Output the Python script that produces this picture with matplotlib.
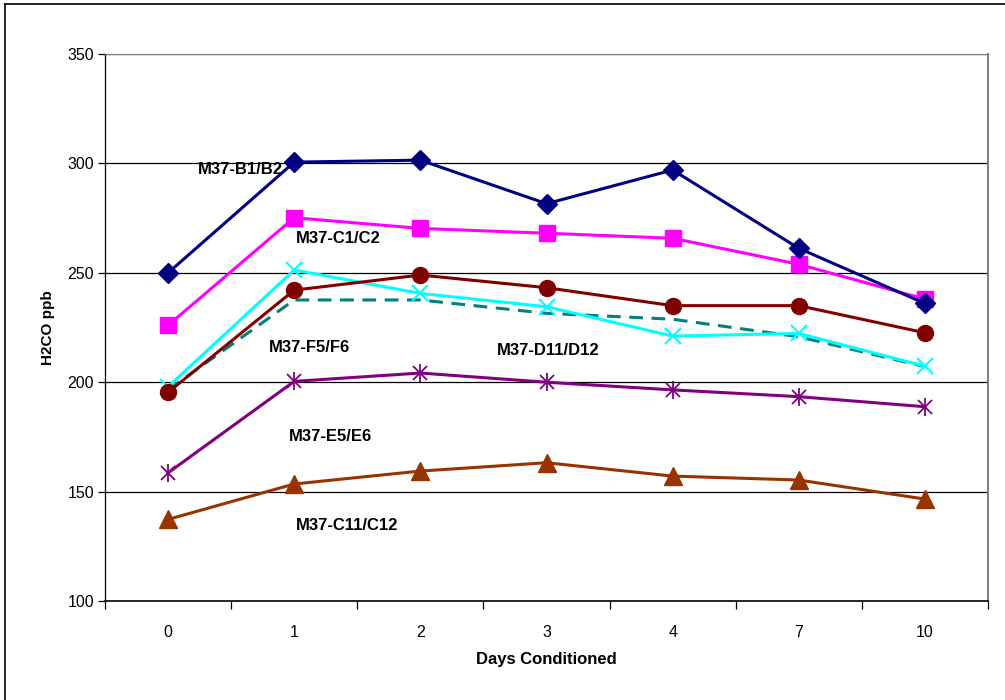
import matplotlib
matplotlib.use('Agg')
import matplotlib.pyplot as plt
from matplotlib.lines import Line2D
import numpy as np

plt.rcParams['font.family'] = ['Liberation Sans', 'DejaVu Sans']

days = ['0', '1', '2', '3', '4', '7', '10']

b1_b2 = [250, 300.6, 301.5, 281.6, 297, 261.2, 236]
c1_c2 = [226, 275.2, 270.3, 268.1, 265.8, 253.9, 238]
f5_f6 = [197.9, 251.3, 240.6, 234.5, 221.1, 222.3, 207.3]
red_series = [195.4, 242.1, 249, 243.2, 235, 235, 222.6]
d11_d12 = [196.5, 237.6, 237.6, 231.5, 228.8, 220.8, 207.1]
e5_e6 = [158.6, 200.4, 204.2, 200, 196.5, 193.4, 188.8]
c11_c12 = [137.3, 153.5, 159.4, 163.2, 157.1, 155.3, 146.6]

labels = ['M37-B1/B2', 'M37-C1/C2', 'M37-F5/F6', 'M37-D11/D12', 'M37-E5/E6', 'M37-C11/C12']
label_x = [0.57, 1.35, 1.12, 3.01, 1.29, 1.42]
label_y = [297.4, 265.9, 216, 214.3, 175.4, 134.4]

x = np.arange(len(days))

fig = plt.figure(figsize=(10.05, 7), dpi=100)
ax = fig.add_axes([0.1045, 0.1414, 0.8786, 0.7814])

for yv in [150, 200, 250, 300, 350]:
    ax.axhline(yv, color='#000000', lw=0.9, zorder=0)

lw = 2.2
ax.plot(x, b1_b2, color='#000080', lw=lw, marker='D', ms=10.5, zorder=5)
ax.plot(x, c1_c2, color='#FF00FF', lw=lw, marker='s', ms=11.5, zorder=4)
ax.plot(x, red_series, color='#800000', lw=lw, marker='o', ms=11.5, zorder=4)
ax.plot(x, d11_d12, color='#008080', lw=lw, ls=(0, (4.5, 2.8)), zorder=3)
ax.plot(x, f5_f6, color='#00FFFF', lw=lw, marker='x', ms=11, mew=1.5, zorder=3)
ax.plot(x, e5_e6, color='#800080', lw=lw, marker='x', ms=10, mew=1.3, zorder=3)
ax.plot(x, e5_e6, color='#800080', ls='none', marker='|', ms=13, mew=1.3, zorder=3)
ax.plot(x, c11_c12, color='#993300', lw=lw, marker='^', ms=12.5, zorder=3)

for t, tx, ty in zip(labels, label_x, label_y):
    ax.text(tx, ty, t, ha='center', va='center', fontsize=12, fontweight='bold', zorder=6)

ax.set_xlim(-0.5, 6.5)
ax.set_ylim(100, 350)
ax.set_yticks([100, 150, 200, 250, 300, 350])
ax.set_xticks(x)
ax.set_xticklabels(days)
ax.set_xticks(np.arange(-0.5, 7, 1), minor=True)
ax.tick_params(axis='x', which='major', length=0, pad=17, labelsize=11.5)
ax.tick_params(axis='x', which='minor', length=6, direction='out', width=0.9)
ax.tick_params(axis='y', length=5, direction='out', width=0.9, labelsize=11.5, pad=3)

ax.spines['top'].set_color('#808080')
ax.spines['right'].set_color('#808080')
ax.spines['right'].set_linewidth(1.5)
ax.spines['left'].set_linewidth(0.9)
ax.spines['bottom'].set_linewidth(1.2)

ax.set_xlabel('Days Conditioned', fontsize=12, fontweight='bold', labelpad=9)
ax.set_ylabel('H2CO ppb', fontsize=11, fontweight='bold', labelpad=9)

fig.add_artist(Line2D([5 / 1005, 5 / 1005], [0, 1 - 4 / 700], color='black', lw=1.2, transform=fig.transFigure))
fig.add_artist(Line2D([5 / 1005, 1], [1 - 4 / 700, 1 - 4 / 700], color='black', lw=1.2, transform=fig.transFigure))

plt.savefig('out.png', dpi=100)
